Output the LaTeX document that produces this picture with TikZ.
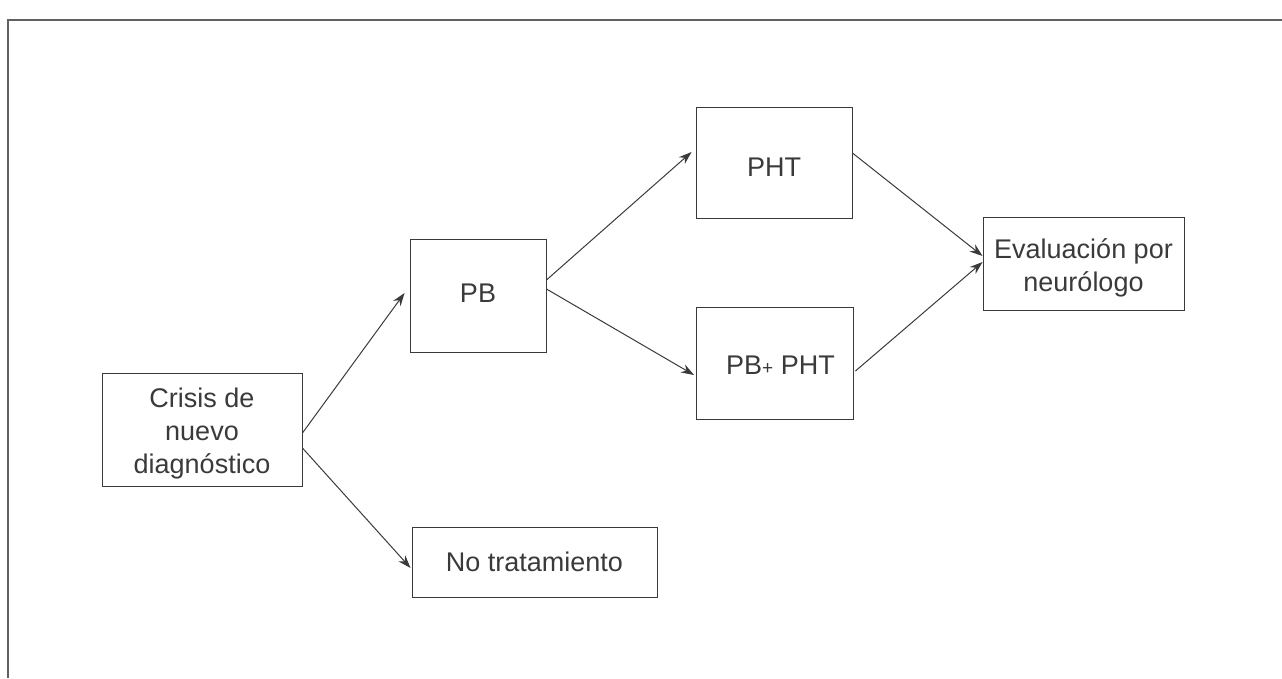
\documentclass[tikz,border=0pt]{standalone}
\usepackage{fontspec}
\setmainfont{Liberation Sans}
\usetikzlibrary{arrows.meta}
\definecolor{ink}{HTML}{3A3A3A}
\begin{document}
\begin{tikzpicture}[x=1pt,y=-1pt,
  box/.style={draw=ink,line width=0.9pt,inner sep=0pt,align=center,text=ink,
    font=\fontsize{27}{33}\selectfont},
  arr/.style={draw=ink,line width=1pt,-{Stealth[length=13pt,width=9pt]}}]
\useasboundingbox (0,0) rectangle (1282,678);
% frame
\draw[ink!80,line width=1.3pt] (1282,20) -- (8,20) -- (8,678);
% nodes
\node[box,minimum width=200pt,minimum height=113pt] (crisis) at (202,429.5) {\raisebox{-4pt}[\height][\depth]{Crisis de}\\\raisebox{-4pt}[\height][\depth]{nuevo}\\\raisebox{-4pt}[\height][\depth]{diagnóstico}};
\node[box,minimum width=136pt,minimum height=113pt] (pb) at (478,295.5) {\raisebox{2pt}[\height][\depth]{PB}};
\node[box,minimum width=156pt,minimum height=111pt] (pht) at (774,162.5) {\raisebox{-5pt}[\height][\depth]{PHT}};
\node[box,minimum width=157pt,minimum height=112pt] (pbpht) at (774.5,363) {\hspace*{12pt}\raisebox{-2pt}[\height][\depth]{PB{\fontsize{19}{20}\selectfont+} PHT}};
\node[box,minimum width=201pt,minimum height=93pt] (eval) at (1083.5,263.5) {\raisebox{-4pt}[\height][\depth]{Evaluación por}\\\raisebox{-4pt}[\height][\depth]{neurólogo}};
\node[box,minimum width=245pt,minimum height=70pt] (notrat) at (534.5,562) {No tratamiento};
% connectors
\draw[arr] ([yshift=-3.5pt]crisis.east) -- ([xshift=-5pt,yshift=2.5pt]pb.west);
\draw[arr] ([yshift=-18.5pt]crisis.east) -- ([xshift=-1pt,yshift=-6pt]notrat.west);
\draw[arr] ([yshift=15.5pt]pb.east) -- ([xshift=-4pt,yshift=10.5pt]pht.west);
\draw[arr] ([yshift=6.5pt]pb.east) -- ([xshift=-1.5pt,yshift=-12pt]pbpht.west);
\draw[arr] ([yshift=9.5pt]pht.east) -- ([yshift=7.5pt]eval.west);
\draw[arr] ([xshift=2pt,yshift=-8pt]pbpht.east) -- ([yshift=1.5pt]eval.west);
\end{tikzpicture}
\end{document}
